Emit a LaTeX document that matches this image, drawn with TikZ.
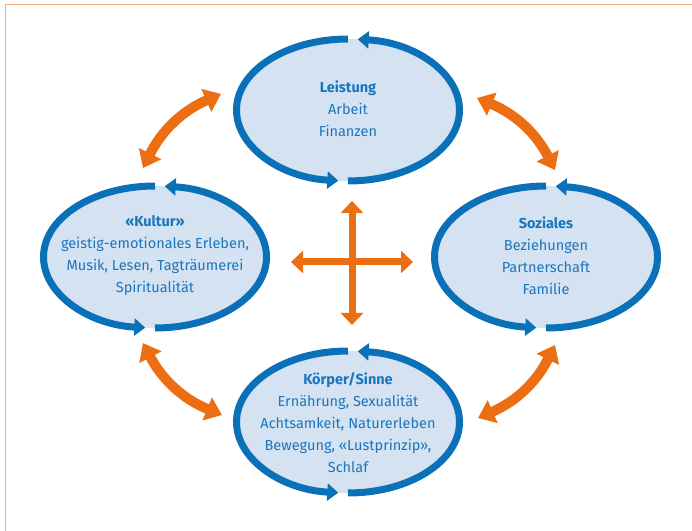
\documentclass[tikz,border=0pt]{standalone}
\usepackage{fontspec}
\setmainfont{Fira Sans}
\usetikzlibrary{arrows.meta,shapes.geometric,calc}

\definecolor{ringblue}{HTML}{0A70B8}
\definecolor{ringfill}{HTML}{D5E2F1}
\definecolor{textblue}{HTML}{1A76BD}
\definecolor{linkorange}{HTML}{EC6E12}
\definecolor{frameorange}{HTML}{F6AE80}

\tikzset{
  area/.style={shape=ellipse, fill=ringfill, minimum width=223, minimum height=142, inner sep=0},
  areatext/.style={align=center, text=textblue, font=\fontsize{14.5}{22}\selectfont},
  bluearc/.style={draw=ringblue, line width=7pt, -{Triangle[width=17pt,length=11pt]}},
  link/.style={draw=linkorange, line width=10pt,
    {Triangle[width=24pt,length=16pt]}-{Triangle[width=24pt,length=16pt]}},
  crossarrow/.style={draw=linkorange, line width=7pt,
    {Triangle[width=22pt,length=12pt]}-{Triangle[width=22pt,length=12pt]}},
  frame/.style={draw=frameorange, line width=1.5pt}
}

% two circulating arcs round an area
\newcommand\ringarrows[1]{%
  \draw[bluearc] ($(#1)+(90:111.5 and 71)$) arc[start angle=90, end angle=265, x radius=111.5, y radius=71];
  \draw[bluearc] ($(#1)+(270:111.5 and 71)$) arc[start angle=270, end angle=445, x radius=111.5, y radius=71];
}

\begin{document}
\begin{tikzpicture}[x=1pt, y=1pt]
\useasboundingbox (0,0) rectangle (692,530);
\clip (0,0) rectangle (692,530);

% frame
\draw[frame] (5.5,-10) -- (5.5,525.5) -- (700,525.5);

% the four areas
\node[area] (T) at (348,420) {};
\node[area] (L) at (155,273) {};
\node[area] (R) at (546,273) {};
\node[area] (B) at (348,108) {};

\ringarrows{T}
\ringarrows{L}
\ringarrows{R}
\ringarrows{B}

\node[areatext] (Ttext) at ($(T)+(0,1)$) {\textbf{Leistung}\\Arbeit\\Finanzen};
\node[areatext] (Ltext) at ($(L)+(0,1)$) {\textbf{«Kultur»}\\geistig-emotionales Erleben,\\Musik, Lesen, Tagträumerei\\Spiritualität};
\node[areatext] (Rtext) at ($(R)+(0,1)$) {\textbf{Soziales}\\Beziehungen\\Partnerschaft\\Familie};
\node[areatext] (Btext) at ($(B)+(0,-1)$) {\textbf{Körper/Sinne}\\Ernährung, Sexualität\\Achtsamkeit, Naturerleben\\Bewegung, «Lustprinzip»,\\Schlaf};

% links between neighbouring areas
\draw[link] ($(L)+(-12,89)$) to[bend left=20] ($(T)+(-127,16)$);
\draw[link] ($(T)+(129,12)$) to[bend left=20] ($(R)+(9,87)$);
\draw[link] ($(R)+(9,-88)$) to[bend left=20] ($(B)+(130,4)$);
\draw[link] ($(B)+(-126,7)$) to[bend left=20] ($(L)+(-12,-86)$);

% central cross
\coordinate (hub) at (352,268);
\draw[crossarrow] ($(hub)+(0,61)$) -- ($(hub)+(0,-63)$);
\draw[crossarrow] ($(hub)+(-61,0)$) -- ($(hub)+(61,0)$);
\end{tikzpicture}
\end{document}
